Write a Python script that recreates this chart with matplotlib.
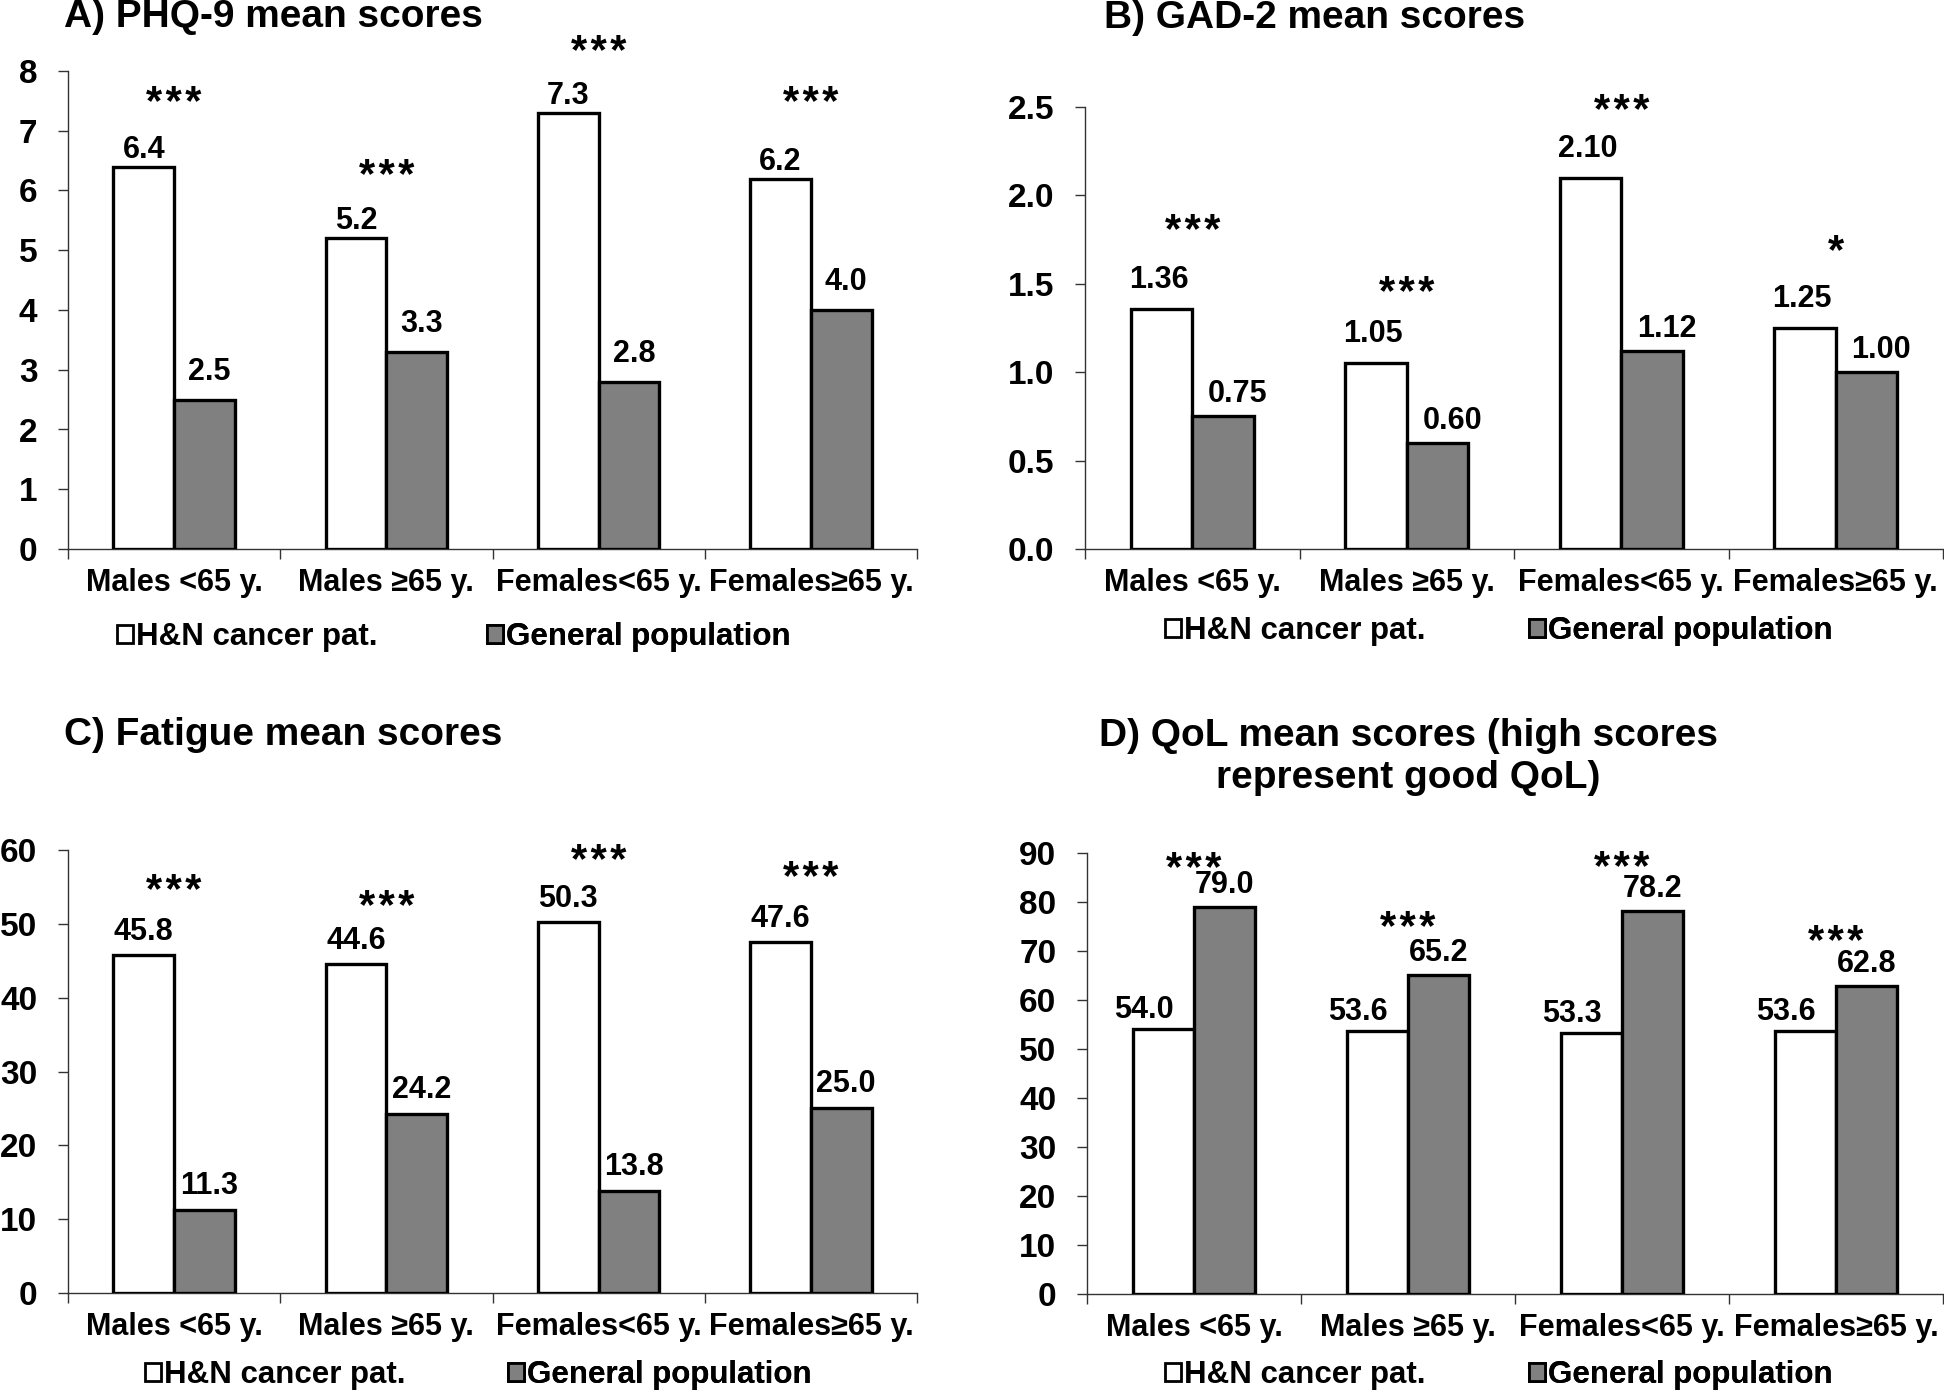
import matplotlib
matplotlib.use('Agg')
import matplotlib.pyplot as plt
from matplotlib.patches import Patch
import numpy as np

plt.rcParams['font.family'] = ['Liberation Sans', 'DejaVu Sans']
plt.rcParams['font.weight'] = 'bold'

# ---------------- data ----------------
categories = ['Males <65 y.', 'Males \u226565 y.', 'Females<65 y.', 'Females\u226565 y.']
series_names = ['H&N cancer pat.', 'General population']

phq9_patients = [6.4, 5.2, 7.3, 6.2]
phq9_general = [2.5, 3.3, 2.8, 4.0]
phq9_sig = ['***', '***', '***', '***']
phq9_sig_y = [7.56, 6.34, 8.41, 7.56]
phq9_ticks = [0, 1, 2, 3, 4, 5, 6, 7, 8]

gad2_patients = [1.36, 1.05, 2.10, 1.25]
gad2_general = [0.75, 0.60, 1.12, 1.00]
gad2_sig = ['***', '***', '***', '*']
gad2_sig_y = [1.83, 1.48, 2.51, 1.72]
gad2_ticks = [0.0, 0.5, 1.0, 1.5, 2.0, 2.5]

fatigue_patients = [45.8, 44.6, 50.3, 47.6]
fatigue_general = [11.3, 24.2, 13.8, 25.0]
fatigue_sig = ['***', '***', '***', '***']
fatigue_sig_y = [55.3, 53.1, 59.3, 57.0]
fatigue_ticks = [0, 10, 20, 30, 40, 50, 60]

qol_patients = [54.0, 53.6, 53.3, 53.6]
qol_general = [79.0, 65.2, 78.2, 62.8]
qol_sig = ['***', '***', '***', '***']
qol_sig_y = [88.0, 76.0, 88.2, 73.0]
qol_ticks = [0, 10, 20, 30, 40, 50, 60, 70, 80, 90]

titles = ['A) PHQ-9 mean scores', 'B) GAD-2 mean scores',
          'C) Fatigue mean scores',
          'D) QoL mean scores (high scores\nrepresent good QoL)']

# ---------------- layout ----------------
W, H = 1944, 1392
fig = plt.figure(figsize=(W / 100, H / 100), dpi=100)
PX = 0.72  # points per pixel

FS_TICK = 24
FS_CAT = 22
FS_VAL = 22
FS_LEG = 22.5
FS_STAR = 30
FS_TITLE = 28


def axpos(l, r, t, b):
    return [l / W, 1 - b / H, (r - l) / W, (b - t) / H]


panels = [
    dict(pos=(68, 917, 71, 549), pat=phq9_patients, gen=phq9_general, sig=phq9_sig,
         sig_y=phq9_sig_y, ticks=phq9_ticks, fmt='{:.1f}', tfmt='{:d}',
         dy=(17, 28), dx=(0, 5), leg=(117, 487, 637)),
    dict(pos=(1085, 1943, 107, 549), pat=gad2_patients, gen=gad2_general, sig=gad2_sig,
         sig_y=gad2_sig_y, ticks=gad2_ticks, fmt='{:.2f}', tfmt='{:.1f}',
         dy=(29, 22), dx=(-3, 15), leg=(1165, 1529, 631)),
    dict(pos=(68, 917, 850, 1293), pat=fatigue_patients, gen=fatigue_general, sig=fatigue_sig,
         sig_y=fatigue_sig_y, ticks=fatigue_ticks, fmt='{:.1f}', tfmt='{:d}',
         dy=(23, 24), dx=(0, 5), leg=(145, 508, 1375)),
    dict(pos=(1087, 1943, 853, 1294), pat=qol_patients, gen=qol_general, sig=qol_sig,
         sig_y=qol_sig_y, ticks=qol_ticks, fmt='{:.1f}', tfmt='{:d}',
         dy=(19, 22), dx=(-20, 0), leg=(1165, 1529, 1375)),
]

bar_w = 0.2857
x = np.arange(len(categories))
GRAY = '#808080'
HAIR = '\u200a'

for p in panels:
    l, r, t, b = p['pos']
    ax = fig.add_axes(axpos(l, r, t, b))
    ax.bar(x - bar_w / 2, p['pat'], bar_w, color='white', edgecolor='black', linewidth=2.4, zorder=3)
    ax.bar(x + bar_w / 2, p['gen'], bar_w, color=GRAY, edgecolor='black', linewidth=2.4, zorder=3)
    ax.set_xlim(-0.5, len(categories) - 0.5)
    ax.set_ylim(p['ticks'][0], p['ticks'][-1])
    ax.set_yticks(p['ticks'])
    ax.set_yticklabels([p['tfmt'].format(v) for v in p['ticks']])
    ax.set_xticks(x)
    ax.set_xticklabels(categories)
    ax.set_xticks(np.arange(len(categories) + 1) - 0.5, minor=True)
    ax.tick_params(axis='x', which='major', length=0, pad=14, labelsize=FS_CAT)
    ax.tick_params(axis='x', which='minor', length=7, width=1, direction='out', color='#333333')
    ax.tick_params(axis='y', length=7, width=1, direction='out', pad=15, labelsize=FS_TICK, color='#333333')
    for s in ['top', 'right']:
        ax.spines[s].set_visible(False)
    for s in ['left', 'bottom']:
        ax.spines[s].set_linewidth(1)
        ax.spines[s].set_color('#333333')
    # value labels and significance marks
    for i in range(len(categories)):
        ax.annotate(p['fmt'].format(p['pat'][i]), xy=(x[i] - bar_w / 2, p['pat'][i]),
                    xytext=(p['dx'][0] * PX, p['dy'][0] * PX), textcoords='offset points',
                    ha='center', va='center', fontsize=FS_VAL, fontweight='bold', annotation_clip=False)
        ax.annotate(p['fmt'].format(p['gen'][i]), xy=(x[i] + bar_w / 2, p['gen'][i]),
                    xytext=(p['dx'][1] * PX, p['dy'][1] * PX), textcoords='offset points',
                    ha='center', va='center', fontsize=FS_VAL, fontweight='bold', annotation_clip=False)
        ax.annotate(HAIR.join(p['sig'][i]), xy=(x[i], p['sig_y'][i]), xytext=(0, -0.58 * FS_STAR + 4.5),
                    textcoords='offset points', ha='center', va='baseline', fontsize=FS_STAR,
                    fontweight='bold', annotation_clip=False)
    # legend (two single-entry legends)
    lx1, lx2, ly = p['leg']
    handles = [Patch(facecolor='white', edgecolor='black', linewidth=2.0),
               Patch(facecolor=GRAY, edgecolor='black', linewidth=2.0)]
    for hdl, name, lx in zip(handles, series_names, (lx1, lx2)):
        lg = ax.legend(handles=[hdl], labels=[name], loc='center left',
                       bbox_to_anchor=((lx - l) / (r - l), -(ly - b) / (b - t)),
                       frameon=False, handlelength=0.5, handleheight=0.5, handletextpad=0.12,
                       borderpad=0, borderaxespad=0, prop=dict(size=FS_LEG, weight='bold'))
        ax.add_artist(lg)

# titles
fig.text(64 / W, 1 - 17 / H, titles[0], ha='left', va='center', fontsize=FS_TITLE, fontweight='bold')
fig.text(1104 / W, 1 - 18 / H, titles[1], ha='left', va='center', fontsize=FS_TITLE, fontweight='bold')
fig.text(64 / W, 1 - 735 / H, titles[2], ha='left', va='center', fontsize=FS_TITLE, fontweight='bold')
fig.text(1408 / W, 1 - 757 / H, titles[3], ha='center', va='center', fontsize=FS_TITLE, fontweight='bold',
         linespacing=1.25, multialignment='center')

fig.savefig('out.png', dpi=100)
